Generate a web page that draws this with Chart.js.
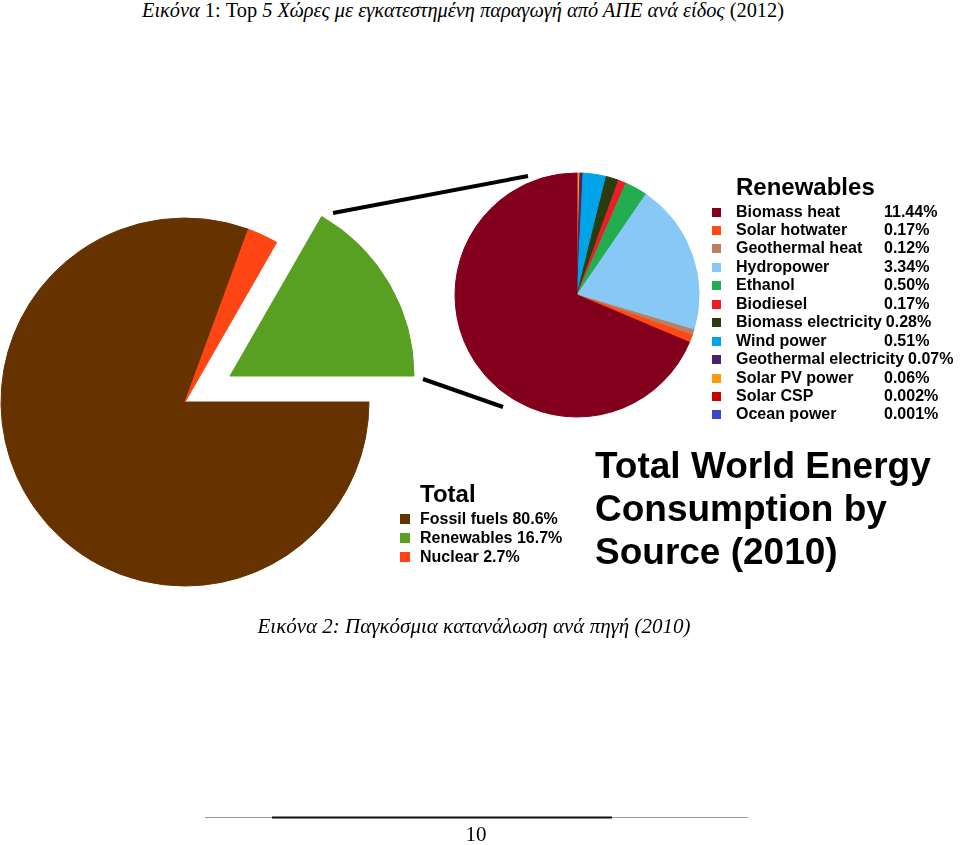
<!DOCTYPE html>
<html>
<head>
<meta charset="utf-8">
<script src="https://cdn.jsdelivr.net/npm/chart.js@4/dist/chart.umd.min.js"></script>
<style>
html,body{margin:0;padding:0;background:#fff;}
body{width:960px;height:845px;overflow:hidden;position:relative;}
.abs{position:absolute;white-space:nowrap;}
.serif{font-family:"Liberation Serif","Times New Roman",serif;font-size:21px;line-height:24px;color:#000;}
.sans{font-family:"Liberation Sans",Arial,sans-serif;font-weight:bold;color:#000;}
canvas{position:absolute;}
.sw{position:absolute;left:0;}
.nm{display:inline-block;box-sizing:border-box;padding-right:4px;}
</style>
</head>
<body>
<div class="abs serif" style="left:0;width:926px;text-align:center;top:-2px;transform:scaleX(0.97);transform-origin:463px 0;"><i>Εικόνα</i> 1: Top <i>5 Χώρες με εγκατεστημένη παραγωγή από ΑΠΕ ανά είδος</i> (2012)</div>

<canvas id="cTotal" width="600" height="600" style="left:-115px;top:102px;"></canvas>
<canvas id="cTotalOut" width="600" height="600" style="left:-70px;top:76px;"></canvas>
<canvas id="cRenew" width="300" height="300" style="left:427px;top:145px;"></canvas>

<svg class="abs" style="left:0;top:0;" width="960" height="845">
  <line x1="333" y1="213" x2="528" y2="176" stroke="#000" stroke-width="4"/>
  <line x1="423" y1="379" x2="503" y2="407" stroke="#000" stroke-width="4"/>
  <line x1="205" y1="817.5" x2="748" y2="817.5" stroke="#999" stroke-width="1"/>
  <line x1="272" y1="817.5" x2="612" y2="817.5" stroke="#111" stroke-width="2"/>
</svg>

<div class="abs sans" style="left:736px;top:174.7px;font-size:24px;line-height:24px;">Renewables</div>
<div id="legRenew"></div>

<div class="abs sans" style="left:420px;top:481.7px;font-size:24px;line-height:24px;">Total</div>
<div id="legTotal"></div>

<div class="abs sans" style="left:595px;top:443.7px;font-size:37px;line-height:43px;">Total World Energy<br>Consumption by<br>Source (2010)</div>

<div class="abs serif" style="left:0;width:948px;text-align:center;top:614px;"><i>Εικόνα 2: Παγκόσμια κατανάλωση ανά πηγή (2010)</i></div>

<div class="abs serif" style="left:0;width:952px;text-align:center;top:822px;">10</div>

<script>
// ---- Data ----
const totalLabels = ['Fossil fuels', 'Renewables', 'Nuclear'];
const totalValues = [80.6, 16.7, 2.7];
const totalColors = ['#663300', '#58A021', '#FF4513'];

const renewLabels = ['Biomass heat', 'Solar hotwater', 'Geothermal heat', 'Hydropower', 'Ethanol', 'Biodiesel',
  'Biomass electricity', 'Wind power', 'Geothermal electricity', 'Solar PV power', 'Solar CSP', 'Ocean power'];
const renewValues = [11.44, 0.17, 0.12, 3.34, 0.50, 0.17, 0.28, 0.51, 0.07, 0.06, 0.002, 0.001];
const renewValueText = ['11.44%', '0.17%', '0.12%', '3.34%', '0.50%', '0.17%', '0.28%', '0.51%', '0.07%', '0.06%', '0.002%', '0.001%'];
const renewColors = ['#82001C', '#FF4A14', '#BC7F60', '#88C8F6', '#22AE50', '#EE1C26', '#2B3D0F', '#00A2E8', '#4A2070', '#FF9A0E', '#C80000', '#3F48CC'];

// ---- Charts ----
const drawOrder = [0, 2, 1]; // clockwise from 3 o'clock: fossil, nuclear, renewables
const explodedIndex = 1;

function pieConfig(labels, values, colors, rotation, radius) {
  return {
    type: 'pie',
    data: {
      labels: labels,
      datasets: [{
        data: values,
        backgroundColor: colors,
        borderColor: colors,
        borderWidth: 1,
        radius: radius,
        rotation: rotation
      }]
    },
    options: {
      responsive: false,
      animation: false,
      events: [],
      rotation: rotation,
      radius: radius,
      layout: { padding: 0 },
      plugins: { legend: { display: false }, tooltip: { enabled: false }, title: { display: false } }
    }
  };
}

const T = 'rgba(0,0,0,0)';
new Chart(document.getElementById('cTotal'), pieConfig(
  drawOrder.map(i => totalLabels[i]),
  drawOrder.map(i => totalValues[i]),
  drawOrder.map(i => i === explodedIndex ? T : totalColors[i]),
  90, 184));
new Chart(document.getElementById('cTotalOut'), pieConfig(
  drawOrder.map(i => totalLabels[i]),
  drawOrder.map(i => totalValues[i]),
  drawOrder.map(i => i === explodedIndex ? totalColors[i] : T),
  90, 184));

new Chart(document.getElementById('cRenew'), pieConfig(
  renewLabels.slice().reverse(),
  renewValues.slice().reverse(),
  renewColors.slice().reverse(),
  0, 122));

// ---- Legends (text) ----
const legR = document.getElementById('legRenew');
renewLabels.forEach((lab, i) => {
  const row = document.createElement('div');
  row.className = 'abs sans';
  row.style.cssText = `left:712px;top:${202.5 + i * 18.45}px;font-size:16px;line-height:18.45px;padding-left:24px;`;
  row.innerHTML = `<span class="sw" style="top:5px;width:9px;height:9px;background:${renewColors[i]}"></span>` +
    `<span class="nm" style="min-width:148px">${lab}</span><span>${renewValueText[i]}</span>`;
  legR.appendChild(row);
});

const legT = document.getElementById('legTotal');
totalLabels.forEach((lab, i) => {
  const row = document.createElement('div');
  row.className = 'abs sans';
  row.style.cssText = `left:400px;top:${509 + i * 19}px;font-size:16px;line-height:19px;padding-left:20px;`;
  row.innerHTML = `<span class="sw" style="top:5px;width:10px;height:10px;background:${totalColors[i]}"></span>` +
    `${lab} ${totalValues[i].toFixed(1)}%`;
  legT.appendChild(row);
});
</script>
</body>
</html>
